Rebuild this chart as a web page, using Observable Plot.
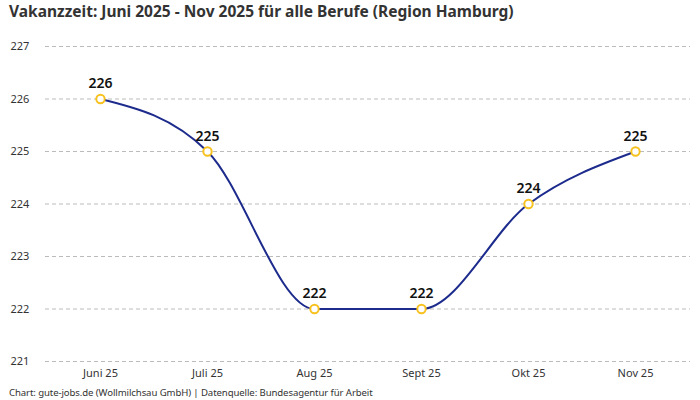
<!DOCTYPE html>
<html>
<head>
<meta charset="utf-8">
<script src="https://cdn.jsdelivr.net/npm/d3@7"></script>
<script src="https://cdn.jsdelivr.net/npm/@observablehq/plot@0.6"></script>
<style>
  html, body { margin: 0; padding: 0; background: #fff; }
  body { width: 700px; height: 400px; overflow: hidden; font-family: "Noto Sans", sans-serif; }
  #title { font-size: 15.5px; font-weight: bold; color: #333; padding: 1px 0 0 9px; height: 25px; line-height: 20px; }
  #caption { font-size: 9.6px; color: #333; padding-left: 9px; margin-top: -2px; letter-spacing: -0.1px; }
</style>
</head>
<body>
<div id="title">Vakanzzeit: Juni 2025 - Nov 2025 für alle Berufe (Region Hamburg)</div>
<div id="chart"></div>
<div id="caption">Chart: gute-jobs.de (Wollmilchsau GmbH) | Datenquelle: Bundesagentur für Arbeit</div>
<script>
const months = ["Juni 25", "Juli 25", "Aug 25", "Sept 25", "Okt 25", "Nov 25"];
const values = [226, 225, 222, 222, 224, 225];
const yTicks = [221, 222, 223, 224, 225, 226, 227];

const data = months.map((m, i) => ({month: m, value: values[i]}));

const chart = Plot.plot({
  width: 700,
  height: 362,
  marginTop: 20,
  marginBottom: 27,
  marginLeft: 45,
  marginRight: 10,
  style: {fontFamily: "Noto Sans, sans-serif", fontSize: "11px", color: "#333"},
  x: {type: "point", domain: months, label: null, padding: 0.5},
  y: {domain: [221, 227], label: null, ticks: yTicks},
  marks: [
    Plot.gridY(yTicks, {stroke: "#bbb", strokeOpacity: 1, strokeDasharray: "4,3"}),
    Plot.axisY({ticks: yTicks, tickFormat: d => String(d), tickSize: 0, tickPadding: 0, textAnchor: "start", dx: -35, fontSize: 11, fill: "#333"}),
    Plot.axisX({tickSize: 0, tickPadding: 8, fontSize: 11, fill: "#333"}),
    Plot.line(data, {x: "month", y: "value", curve: "monotone-x", stroke: "#1c2b8c", strokeWidth: 2}),
    Plot.dot(data, {x: "month", y: "value", r: 4.2, fill: "white", stroke: "#f7c11e", strokeWidth: 2}),
    Plot.text(data, {x: "month", y: "value", text: d => String(d.value), dy: -15, fontSize: 14, fontWeight: 600, fill: "#111"})
  ]
});
document.getElementById("chart").appendChild(chart);
</script>
</body>
</html>
